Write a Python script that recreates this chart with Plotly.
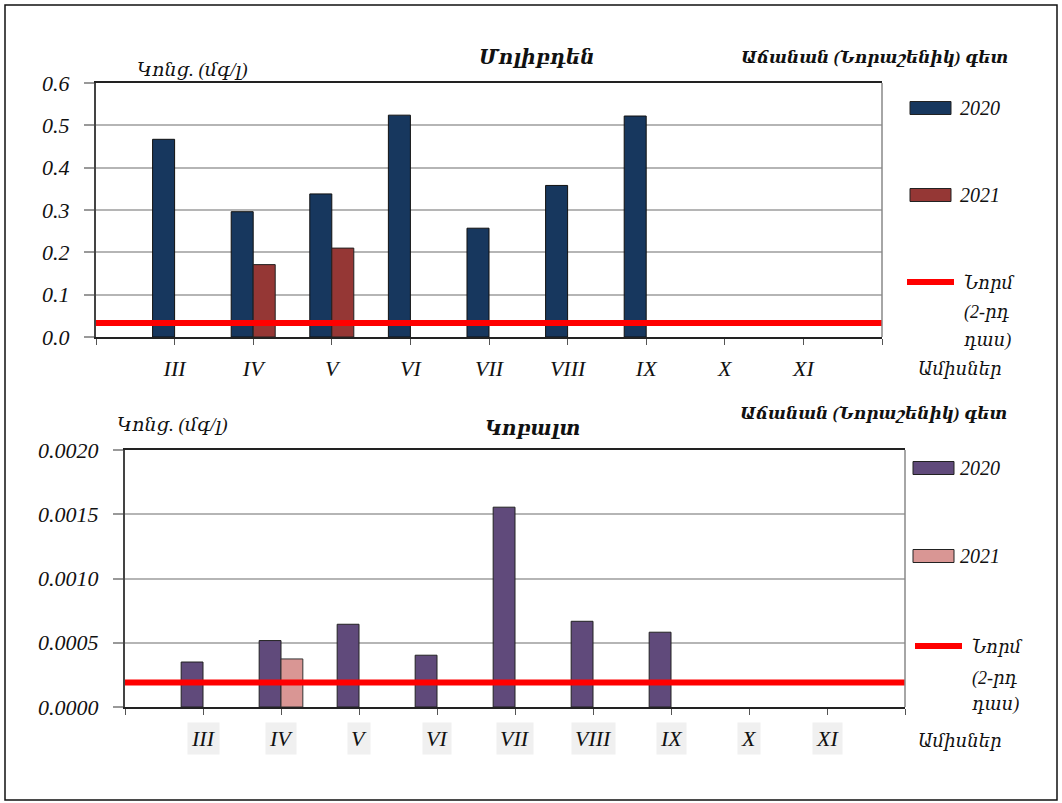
import plotly.graph_objects as go

# ---- data -------------------------------------------------------------
months = ["III", "IV", "V", "VI", "VII", "VIII", "IX", "X", "XI"]

molybdenum_2020 = [0.467, 0.296, 0.338, 0.524, 0.257, 0.358, 0.522, None, None]
molybdenum_2021 = [None, 0.171, 0.210, None, None, None, None, None, None]
molybdenum_norm = 0.033

cobalt_2020 = [0.000350, 0.000517, 0.000644, 0.000403, 0.001555, 0.000667, 0.000582, None, None]
cobalt_2021 = [None, 0.000374, None, None, None, None, None, None, None]
cobalt_norm = 0.00019

# ---- page geometry ----------------------------------------------------
W, H = 1062, 803
FONT = "Liberation Serif, DejaVu Serif, serif"


def px(x):
    return x / W


def py(y):
    return 1 - y / H


xpos = list(range(len(months)))
x_ticks = list(range(-1, len(months) + 1))
x_text = [""] + months + [""]
norm_x = [-1, len(months)]

fig = go.Figure()

# upper panel: molybdenum
fig.add_trace(go.Bar(x=xpos, y=molybdenum_2020, name="2020", xaxis="x", yaxis="y",
                     marker=dict(color="#17375E", line=dict(color="#111111", width=1))))
fig.add_trace(go.Bar(x=xpos, y=molybdenum_2021, name="2021", xaxis="x", yaxis="y",
                     marker=dict(color="#953735", line=dict(color="#222222", width=1))))
fig.add_trace(go.Scatter(x=norm_x, y=[molybdenum_norm] * 2, mode="lines", xaxis="x", yaxis="y",
                         line=dict(color="#FF0000", width=6), cliponaxis=False))

# lower panel: cobalt
fig.add_trace(go.Bar(x=xpos, y=cobalt_2020, name="2020", xaxis="x2", yaxis="y2",
                     marker=dict(color="#604A7B", line=dict(color="#222222", width=1))))
fig.add_trace(go.Bar(x=xpos, y=cobalt_2021, name="2021", xaxis="x2", yaxis="y2",
                     marker=dict(color="#D99694", line=dict(color="#333333", width=1))))
fig.add_trace(go.Scatter(x=norm_x, y=[cobalt_norm] * 2, mode="lines", xaxis="x2", yaxis="y2",
                         line=dict(color="#FF0000", width=6), cliponaxis=False))

tick_font = dict(family=FONT, size=22, color="#111111", style="italic")

xaxis_common = dict(range=[-1, len(months)], tickmode="array", tickvals=x_ticks,
                    ticks="outside", ticklen=6, tickcolor="#555555", tickwidth=1,
                    showline=True, linecolor="#222222", linewidth=1.5, mirror=True,
                    showgrid=False, zeroline=False, fixedrange=True, automargin=False)
yaxis_common = dict(ticks="outside", ticklen=10, tickcolor="#999999", tickwidth=1.5,
                    showline=True, linecolor="#444444", linewidth=2,
                    showgrid=True, gridcolor="#b5b5b5", gridwidth=1.5,
                    zeroline=False, fixedrange=True, tickfont=tick_font,
                    ticklabelstandoff=10, automargin=False)

fig.update_layout(
    width=W, height=H,
    margin=dict(l=0, r=0, t=0, b=0, autoexpand=False),
    paper_bgcolor="white", plot_bgcolor="white",
    showlegend=False,
    barmode="group", bargap=0.44, bargroupgap=0,
    font=dict(family=FONT, color="#111111"),
    xaxis=dict(xaxis_common, domain=[px(96), px(882)], anchor="y",
               ticktext=x_text, tickfont=dict(family=FONT, size=22, color="#111111", style="italic"),
               ticklabelstandoff=5),
    yaxis=dict(yaxis_common, domain=[py(337), py(83)], anchor="x",
               range=[0, 0.6], dtick=0.1, tickformat=".1f"),
    xaxis2=dict(xaxis_common, domain=[px(125), px(905)], anchor="y2",
                ticktext=[""] * len(x_text), showticklabels=False),
    yaxis2=dict(yaxis_common, domain=[py(707), py(450)], anchor="x2",
                range=[0, 0.002], dtick=0.0005, tickformat=".4f"),
)

shapes = [
    # outer frame
    dict(type="rect", xref="paper", yref="paper", x0=px(5), x1=px(1057), y0=py(800), y1=py(5),
         line=dict(color="#111111", width=1.5)),
    # right borders of the plot areas
    dict(type="line", xref="x domain", yref="y domain", x0=1, x1=1, y0=0, y1=1,
         line=dict(color="#888888", width=1.5)),
    dict(type="line", xref="x2 domain", yref="y2 domain", x0=1, x1=1, y0=0, y1=1,
         line=dict(color="#888888", width=1.5)),
]

# legend swatches
legend_specs = [
    # (x0, y_center, colour, kind)
    (910, 108, "#17375E", "box"),
    (910, 195, "#953735", "box"),
    (907, 282, "#FF0000", "line"),
    (913, 468, "#604A7B", "box"),
    (913, 556, "#D99694", "box"),
    (915, 646, "#FF0000", "line"),
]
for x0, yc, col, kind in legend_specs:
    if kind == "box":
        shapes.append(dict(type="rect", xref="paper", yref="paper",
                           x0=px(x0), x1=px(x0 + 41), y0=py(yc + 6.5), y1=py(yc - 6.5),
                           fillcolor=col, line=dict(color="#222222", width=1)))
    else:
        shapes.append(dict(type="line", xref="paper", yref="paper",
                           x0=px(x0), x1=px(x0 + 47), y0=py(yc), y1=py(yc),
                           line=dict(color=col, width=6)))
fig.update_layout(shapes=shapes)

annotations = []


def text(x, y, s, size, bold=False, xanchor="left", **kw):
    label = f"<b><i>{s}</i></b>" if bold else f"<i>{s}</i>"
    annotations.append(dict(x=px(x), y=py(y), xref="paper", yref="paper", text=label,
                            showarrow=False, xanchor=xanchor, yanchor="middle",
                            font=dict(family=FONT, size=size, color="#111111"), **kw))


# upper panel texts
text(135, 70, "Կոնց. (մգ/լ)", 19)
text(537, 57, "Մոլիբդեն", 20, bold=True, xanchor="center")
text(874, 57, "Աճանան (Նորաշենիկ) գետ", 17, bold=True, xanchor="center")
text(958, 108, "2020", 20)
text(958, 195, "2021", 20)
text(962, 283, "Նորմ", 18)
text(962, 312, "(2-րդ", 18)
text(962, 341, "դաս)", 18)
text(960, 369, "Ամիսներ", 18, xanchor="center")

# lower panel texts
text(115, 425, "Կոնց. (մգ/լ)", 19)
text(532, 428, "Կոբալտ", 20, bold=True, xanchor="center")
text(873, 414, "Աճանան (Նորաշենիկ) գետ", 17, bold=True, xanchor="center")
text(958, 468, "2020", 20)
text(958, 556, "2021", 20)
text(970, 647, "Նորմ", 18)
text(970, 678, "(2-րդ", 18)
text(970, 704, "դաս)", 18)
text(960, 741, "Ամիսներ", 18, xanchor="center")

# lower panel month labels on light boxes
for i, m in enumerate(months):
    annotations.append(dict(x=i, xref="x2", y=py(738), yref="paper", text=f"<i>{m}</i>",
                            showarrow=False, xanchor="center", yanchor="middle",
                            bgcolor="#f0f0f0", borderpad=3,
                            font=dict(family=FONT, size=22, color="#111111")))

fig.update_layout(annotations=annotations)

fig.write_html("out.html")
